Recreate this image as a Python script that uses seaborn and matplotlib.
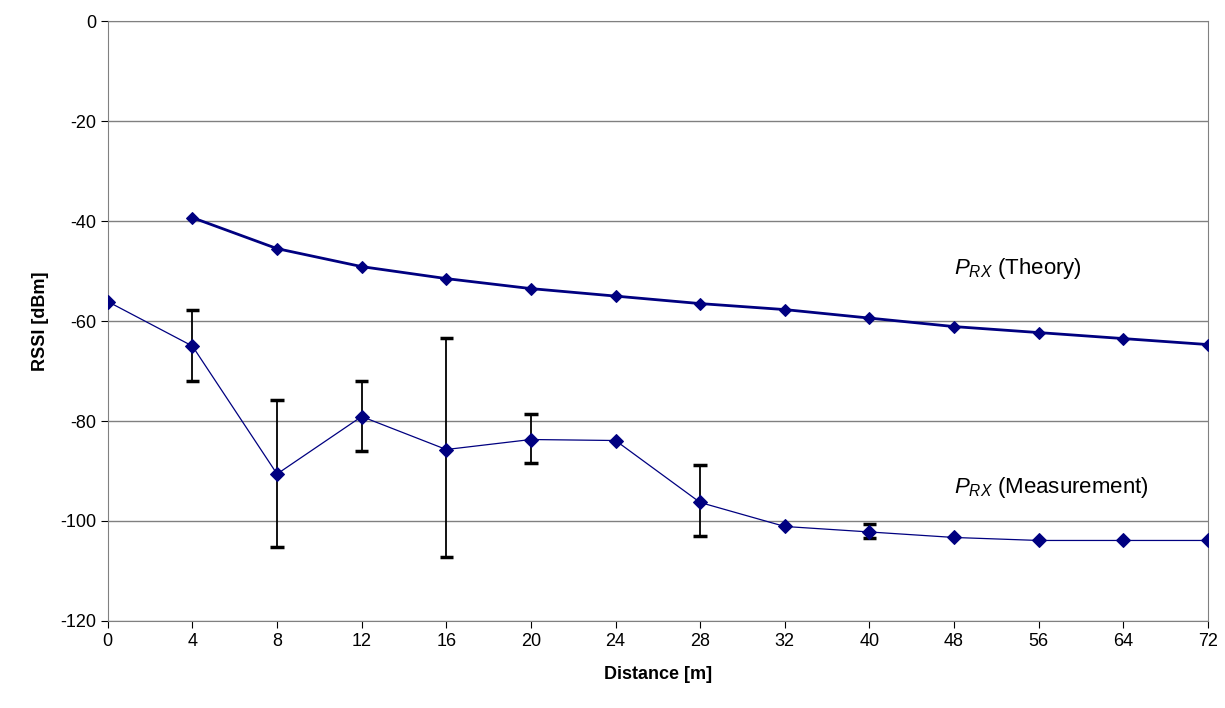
import numpy as np
import pandas as pd
import matplotlib
matplotlib.use("Agg")
import matplotlib.pyplot as plt
import seaborn as sns

sns.set_style("white")
plt.rcParams['font.family'] = ['Liberation Sans', 'DejaVu Sans']
plt.rcParams['mathtext.fontset'] = 'custom'
plt.rcParams['mathtext.it'] = 'Liberation Sans:italic'
plt.rcParams['mathtext.rm'] = 'Liberation Sans'
plt.rcParams['axes.unicode_minus'] = False
plt.rcParams['text.color'] = 'black'
plt.rcParams['axes.labelcolor'] = 'black'
plt.rcParams['xtick.color'] = 'black'
plt.rcParams['ytick.color'] = 'black'

distance = ["0", "4", "8", "12", "16", "20", "24", "28", "32", "40", "48", "56", "64", "72"]
theory = [np.nan, -39.3, -45.5, -49.1, -51.5, -53.5, -55.0, -56.5, -57.7, -59.4, -61.1, -62.3, -63.5, -64.7]
measured = [-56.1, -65.0, -90.6, -79.1, -85.7, -83.7, -83.9, -96.3, -101.1, -102.2, -103.3, -103.9, -103.9, -103.9]
err_hi = [np.nan, -57.7, -75.7, -72.0, -63.3, -78.5, np.nan, -88.8, np.nan, -100.6, np.nan, np.nan, np.nan, np.nan]
err_lo = [np.nan, -71.9, -105.2, -85.9, -107.3, -88.3, np.nan, -103.0, np.nan, -103.5, np.nan, np.nan, np.nan, np.nan]

df = pd.DataFrame({"pos": np.arange(len(distance)), "theory": theory, "measured": measured,
                   "hi": err_hi, "lo": err_lo})

fig = plt.figure(figsize=(12.25, 7.08), dpi=100)
ax = fig.add_axes([0.088, 0.123, 0.898, 0.847])

navy = "#000080"
ax.vlines(df["pos"], df["lo"], df["hi"], color="black", lw=1.3, zorder=2)
ax.hlines(df["hi"], df["pos"] - 0.08, df["pos"] + 0.08, color="black", lw=2.5, zorder=2)
ax.hlines(df["lo"], df["pos"] - 0.08, df["pos"] + 0.08, color="black", lw=2.5, zorder=2)

sns.lineplot(data=df, x="pos", y="theory", ax=ax, color=navy, lw=2, marker="D",
             markersize=6, markeredgecolor=navy, zorder=3)
sns.lineplot(data=df, x="pos", y="measured", ax=ax, color=navy, lw=0.9, marker="D",
             markersize=7, markeredgecolor=navy, zorder=3)

ax.set_xlim(0, 13)
ax.set_ylim(-120, 0)
ax.set_xticks(df["pos"])
ax.set_xticklabels(distance)
ax.set_yticks(np.arange(-120, 1, 20))
ax.yaxis.grid(True, color="#808080", lw=1)
ax.tick_params(labelsize=13, length=5, direction="out", bottom=True, left=True)
for s in ax.spines.values():
    s.set_color("#808080")

ax.set_xlabel("Distance [m]", fontsize=13, fontweight="bold", labelpad=12)
ax.set_ylabel("RSSI [dBm]", fontsize=13, fontweight="bold", labelpad=8)

ax.text(10.0, -49.4, r"$P_{RX}$ (Theory)", fontsize=16, va="center")
ax.text(10.0, -93.4, r"$P_{RX}$ (Measurement)", fontsize=16, va="center")

fig.savefig("out.png", dpi=100)
